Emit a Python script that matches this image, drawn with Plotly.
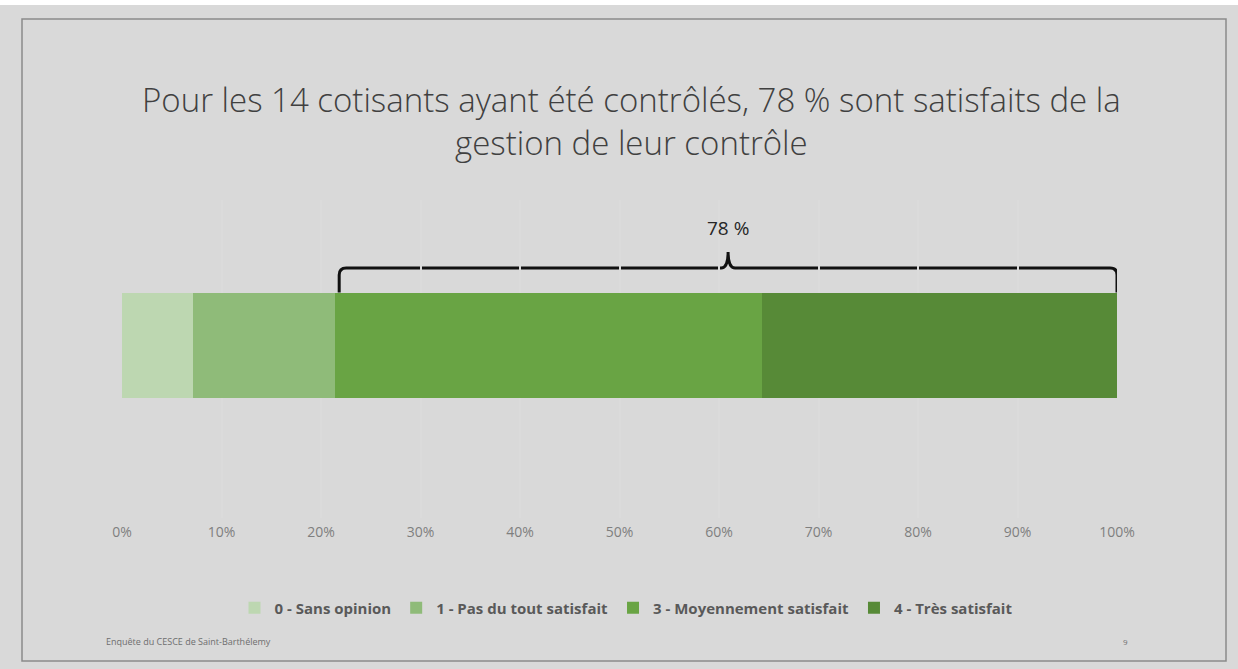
import plotly.graph_objects as go

# ---- data ----
categories = ["0 - Sans opinion", "1 - Pas du tout satisfait",
              "3 - Moyennement satisfait", "4 - Très satisfait"]
counts = [1, 2, 6, 5]          # out of 14 cotisants
colors = ["#bdd7b1", "#8fbb79", "#69a444", "#578a37"]
tick_vals = [0, 10, 20, 30, 40, 50, 60, 70, 80, 90, 100]
tick_text = ["0%", "10%", "20%", "30%", "40%", "50%", "60%", "70%", "80%", "90%", "100%"]
satisfied_idx = [2, 3]
title_lines = ["Pour les 14 cotisants ayant été contrôlés, 78 % sont satisfaits de la",
               "gestion de leur contrôle"]

total = sum(counts)
pct = [c / total * 100 for c in counts]

W, H = 1238, 669
L, R = 122, 1117          # plot area px
T, B = 200, 518

def px_x(px):
    return (px - L) / (R - L)

def px_y(py):
    return (B - py) / (B - T)

fig = go.Figure()
for name, v, col in zip(categories, pct, colors):
    fig.add_trace(go.Bar(
        y=[0], x=[v], name=name, orientation="h",
        marker=dict(color=col, line=dict(width=0)),
        width=1, hoverinfo="name+x",
    ))

unit = 105.0
ytop = (345.5 - T) / unit
ybot = -((B - 345.5) / unit)

# bracket over satisfied segments
x0 = sum(pct[:satisfied_idx[0]]) + 0.4
x1 = sum(pct[: satisfied_idx[-1] + 1])
xm = (x0 + x1) / 2
yl = ytop - (268 - T) / unit
ytip = ytop - (252 - T) / unit
ybar = 0.5 + 0.5 / unit
dx = 0.7
ry = 7 / unit
path = (f"M{x0},{ybar} L{x0},{yl - ry} Q{x0},{yl} {x0 + dx},{yl} "
        f"L{xm - dx},{yl} Q{xm},{yl} {xm},{ytip} Q{xm},{yl} {xm + dx},{yl} "
        f"L{x1 - dx},{yl} Q{x1},{yl} {x1},{yl - ry} L{x1},{ybar}")
sat_pct = int(sum(pct[i] for i in satisfied_idx))

shapes = [
    dict(type="path", path=path, xref="x", yref="y", layer="below",
         line=dict(color="#111111", width=3)),
    dict(type="rect", xref="paper", yref="paper", x0=px_x(0), x1=px_x(W),
         y0=px_y(5), y1=px_y(0), fillcolor="#ffffff", line=dict(width=0), layer="below"),
    dict(type="rect", xref="paper", yref="paper", x0=px_x(22), x1=px_x(1226),
         y0=px_y(661), y1=px_y(19), fillcolor="rgba(0,0,0,0)",
         line=dict(color="#8a8a8a", width=1.5)),
]

title_font = dict(family="Open Sans", size=33, color="#404040", weight=300)
annotations = [
    dict(text="<br>".join(title_lines), xref="paper", yref="paper", x=px_x(631), y=px_y(121),
         xanchor="center", yanchor="middle", showarrow=False, font=title_font),
    dict(text=f"{sat_pct} %", xref="x", yref="y", x=xm, y=ytop - (228 - T) / unit,
         xanchor="center", yanchor="middle", showarrow=False,
         font=dict(family="Open Sans", size=19, color="#262626")),
    dict(text="Enquête du CESCE de Saint-Barthélemy", xref="paper", yref="paper",
         x=px_x(104), y=px_y(641), xanchor="left", yanchor="middle", showarrow=False,
         font=dict(family="Open Sans", size=9, color="#6e6e6e")),
    dict(text="9", xref="paper", yref="paper", x=px_x(1125), y=px_y(641),
         xanchor="center", yanchor="middle", showarrow=False,
         font=dict(family="Open Sans", size=8, color="#6e6e6e")),
]

fig.update_layout(
    barmode="stack",
    width=W, height=H,
    margin=dict(l=L, r=W - R, t=T, b=H - B, pad=0),
    paper_bgcolor="#d9d9d9",
    plot_bgcolor="rgba(0,0,0,0)",
    shapes=shapes,
    annotations=annotations,
    showlegend=True,
    legend=dict(orientation="h", x=px_x(626), xanchor="center", y=px_y(608), yanchor="middle",
                font=dict(family="Open Sans", size=15, color="#595959", weight="bold"),
                bgcolor="rgba(0,0,0,0)", traceorder="normal", itemwidth=30),
    xaxis=dict(range=[0, 100], tickvals=tick_vals, ticktext=tick_text,
               showgrid=True, gridcolor="#dbdbdb", gridwidth=1.5, zeroline=False,
               showline=False, ticks="", ticklabelstandoff=4,
               tickfont=dict(family="Open Sans", size=14, color="#7f7f7f"), fixedrange=True),
    yaxis=dict(range=[ybot, ytop], showticklabels=False, showgrid=False,
               zeroline=False, showline=False, fixedrange=True),
)

fig.write_html("out.html")
